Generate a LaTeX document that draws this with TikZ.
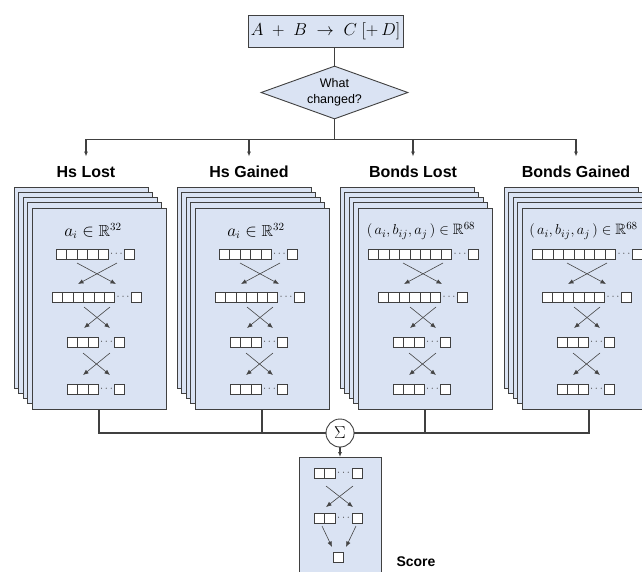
\documentclass[tikz,border=0pt]{standalone}
\usepackage{fontspec}
\usepackage{amssymb}
\setmainfont{Liberation Sans}
\usetikzlibrary{shapes.geometric,arrows.meta,calc}
\definecolor{cardfill}{HTML}{DAE3F3}
\definecolor{edge}{HTML}{404040}
\definecolor{iline}{HTML}{454545}
\tikzset{
 card/.style={draw=edge, fill=cardfill, line width=0.9pt, minimum width=134pt, minimum height=201pt, inner sep=0pt, outer sep=0pt},
 sq/.style={draw=edge, fill=white, line width=0.8pt, minimum width=10.4pt, minimum height=10pt, inner sep=0pt},
 dots/.style={inner sep=0pt, text=edge, font=\fontsize{11}{11}\selectfont},
 ttl/.style={font=\fontsize{16}{16}\selectfont\bfseries, text height=11.5pt, text depth=0pt, inner xsep=0pt, inner ysep=9pt},
 formula/.style={font=\fontsize{16}{16}\selectfont, inner sep=0pt},
 conn/.style={draw=edge, line width=1.1pt},
 arr/.style={conn, -{Latex[length=5pt,width=4pt]}},
 iarr/.style={draw=iline, line width=0.6pt, -{Latex[length=5.5pt,width=4.5pt]}},
}
% row of squares: #1 name, #2 x start, #3 y, #4 count, #5 x of last square
\newcommand\sqrow[5]{%
  \foreach \k in {1,...,#4}{\node[sq,anchor=west] (#1s\k) at ({#2+(\k-1)*10.4},{#3}) {};}
  \node[sq,anchor=west] (#1z) at ({#5},{#3}) {};
  \node[dots] (#1d) at ($(#1s#4.east)!0.5!(#1z.west)$) {$\cdots$};
}
% one column: #1 id, #2 front-card left, #3 title x, #4 title, #5 formula, #6 formula offset, #7 n row1, #8 row1 start, #9 row1 last
\newcommand\mkcol[9]{%
  \foreach \i in {0,...,4}{\node[card,anchor=north west] (#1c\i) at ({#2-18+4.5*\i},{187+5.25*\i}) {};}
  \node[ttl] (#1t) at ({#3},171.5) {#4};
  \node[formula] (#1f) at ({#2+#6},231) {#5};
  \sqrow{#1r1}{#2+#8}{254}{#7}{#2+#9}
  \sqrow{#1r2}{#2+20}{297}{6}{#2+99}
  \sqrow{#1r3}{#2+35}{342}{3}{#2+82}
  \sqrow{#1r4}{#2+35}{389}{3}{#2+82}
  \coordinate (#1a1) at ({#2+45},263); \coordinate (#1b1) at ({#2+84},284);
  \coordinate (#1a2) at ({#2+85},263); \coordinate (#1b2) at ({#2+46},284);
  \coordinate (#1a3) at ({#2+52},307); \coordinate (#1b3) at ({#2+78},328);
  \coordinate (#1a4) at ({#2+78},307); \coordinate (#1b4) at ({#2+52},328);
  \coordinate (#1a5) at ({#2+51},353); \coordinate (#1b5) at ({#2+78},375);
  \coordinate (#1a6) at ({#2+78},353); \coordinate (#1b6) at ({#2+51},375);
  \foreach \j in {1,...,6}{\draw[iarr] (#1a\j) -- (#1b\j);}
}
\newcommand\bondf{{\fontsize{15}{15}\selectfont$(\,a_i, b_{ij}, a_j\,) \in \mathbb{R}^{68}$}}
\begin{document}
\begin{tikzpicture}[x=1pt,y=-1pt]
\useasboundingbox (0,0) rectangle (642,571);
\clip (0,0) rectangle (642,571);
\fill[white] (0,0) rectangle (642,571);

\node[draw=edge, fill=cardfill, line width=0.9pt, minimum width=155pt, minimum height=32pt, inner sep=0pt, font=\fontsize{16}{16}\selectfont] (top) at (325.5,31) {$A\;+\;B\;\rightarrow\;C\;[+\,D]$};
\node[diamond, draw=edge, fill=cardfill, line width=0.9pt, aspect=2.77, minimum width=147pt, minimum height=53pt, inner sep=0pt, align=center, font=\fontsize{12.5}{15.5}\selectfont] (dia) at (334.5,92.5) {What\\changed?};

\mkcol{A}{32}{86}{Hs Lost}{$a_i \in \mathbb{R}^{32}$}{61}{5}{24}{92}
\mkcol{B}{195}{249}{Hs Gained}{$a_i \in \mathbb{R}^{32}$}{61}{5}{24}{92}
\mkcol{C}{358}{413}{Bonds Lost}{\bondf}{63}{8}{10}{110}
\mkcol{D}{522}{576}{Bonds Gained}{\bondf}{61.5}{8}{10}{110}

% top connectors
\draw[conn] (dia.north |- top.south) -- (dia.north);
\path (dia.south) ++(0,20) coordinate (split);
\draw[conn] (dia.south) -- (split);
\draw[conn] (At.north |- split) -- (Dt.north |- split);
\foreach \c in {A,B,C,D}{\draw[arr] (\c t.north |- split) -- (\c t.north);}

% sum
\node[circle, draw=edge, fill=white, line width=0.9pt, minimum size=28pt, inner sep=0pt, font=\fontsize{18}{18}\selectfont] (sig) at (340,433) {$\Sigma$};
\draw[conn] (Ac4.south) |- (sig.west);
\draw[conn] (Bc4.south) -- (Bc4.south |- sig.center);
\draw[conn] (Dc4.south) |- (sig.east);
\draw[conn] (Cc4.south) -- (Cc4.south |- sig.center);

% output box
\node[card, minimum width=82pt, minimum height=150pt, anchor=north] (out) at (340,457) {};
\draw[arr] (sig.south) -- (sig.south |- out.north);
\sqrow{Er1}{314}{473}{2}{351.6}
\sqrow{Er2}{314}{518}{2}{351.6}
\node[sq] (Ez) at (338.5,557) {};
\coordinate (Ea1) at (326,486); \coordinate (Eb1) at (353,507);
\coordinate (Ea2) at (353,486); \coordinate (Eb2) at (326,507);
\coordinate (Ea3) at (322,526); \coordinate (Eb3) at (332,547);
\coordinate (Ea4) at (356,526); \coordinate (Eb4) at (346,547);
\foreach \j in {1,...,4}{\draw[iarr] (Ea\j) -- (Eb\j);}
\node[font=\fontsize{14}{14}\selectfont\bfseries, inner sep=0pt] (score) at (416,562) {Score};
\end{tikzpicture}
\end{document}
